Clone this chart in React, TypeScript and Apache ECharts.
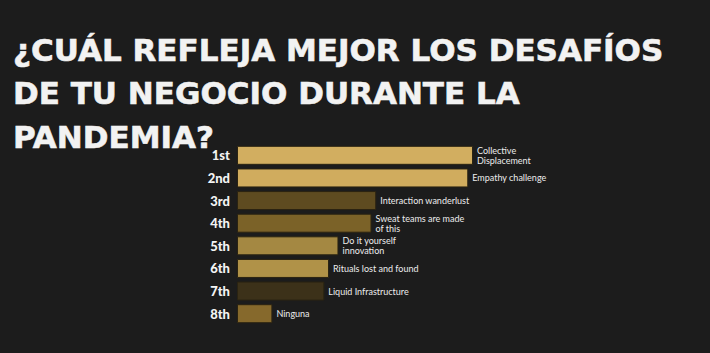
import React, { useEffect, useRef } from "react";
import * as echarts from "echarts";

const categories = ["1st", "2nd", "3rd", "4th", "5th", "6th", "7th", "8th"];
const answers = [
  "Collective\nDisplacement",
  "Empathy challenge",
  "Interaction wanderlust",
  "Sweat teams are made\nof this",
  "Do it yourself\ninnovation",
  "Rituals lost and found",
  "Liquid Infrastructure",
  "Ninguna",
];
const values = [100, 98, 59, 57, 43, 39, 37, 15];
const barColors = ["#d2ae60", "#d0ac5e", "#5e4b20", "#7b6228", "#a48842", "#b09248", "#3c3119", "#86692c"];
const titleText = "¿CUÁL REFLEJA MEJOR LOS DESAFÍOS\nDE TU NEGOCIO DURANTE LA\nPANDEMIA?";

export default function App() {
  const ref = useRef<HTMLDivElement>(null);
  useEffect(() => {
    if (!ref.current) return;
    const chart = echarts.init(ref.current, null, { renderer: "svg" });
    chart.setOption({
      animation: false,
      backgroundColor: "#1c1c1c",
      title: {
        text: titleText,
        left: 8,
        top: 23,
        textStyle: {
          color: "#f2f2f2",
          fontSize: 31,
          fontWeight: "bold",
          fontFamily: "DejaVu Sans",
          lineHeight: 43.5,
          textBorderColor: "#f2f2f2",
          textBorderWidth: 0.6,
        },
      },
      grid: { left: 237, right: 237, top: 144, height: 181, containLabel: false },
      xAxis: {
        type: "value",
        min: 0,
        max: 100,
        show: false,
      },
      yAxis: {
        type: "category",
        data: categories,
        inverse: true,
        axisLine: { show: false },
        axisTick: { show: false },
        axisLabel: {
          color: "#f4f4f4",
          fontSize: 13,
          fontWeight: 900,
          fontFamily: "Lato",
          margin: 7,
        },
      },
      series: [
        {
          type: "bar",
          barWidth: 19,
          data: values.map((v, i) => ({
            value: v,
            itemStyle: { color: barColors[i] },
            label: { formatter: answers[i] },
          })),
          itemStyle: { borderColor: "#2a2312", borderWidth: 1 },
          label: {
            show: true,
            position: "right",
            distance: 4,
            color: "#ececec",
            fontSize: 9,
            fontFamily: "Lato",
            lineHeight: 10,
          },
        },
      ],
    });
    return () => chart.dispose();
  }, []);
  return <div ref={ref} style={{ width: 710, height: 353, position: "fixed", left: 0, top: 0 }} />;
}
